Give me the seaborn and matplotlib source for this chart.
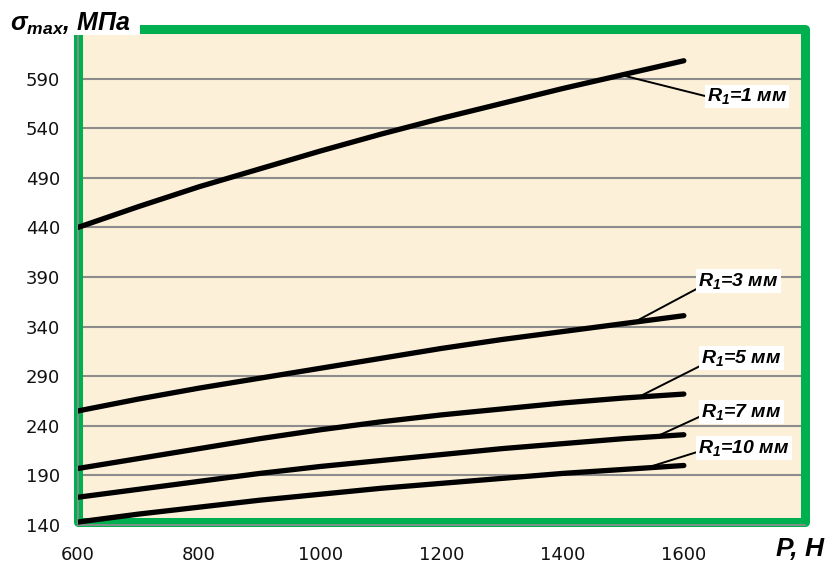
import numpy as np
import pandas as pd
import matplotlib
matplotlib.use("Agg")
import matplotlib.pyplot as plt
import seaborn as sns
from matplotlib.patches import Rectangle

# Load P, N
load_n = [600, 700, 800, 900, 1000, 1100, 1200, 1300, 1400, 1500, 1600]

# Maximum stress, MPa, for each fillet radius R1
stress_r1_1 = [440, 461, 481, 499, 517, 534, 550, 565, 580, 594, 608]
stress_r1_3 = [255, 267, 278, 288, 298, 308, 318, 327, 335, 343, 351]
stress_r1_5 = [197, 207, 217, 227, 236, 244, 251, 257, 263, 268, 272]
stress_r1_7 = [168, 176, 184, 192, 199, 205, 211, 217, 222, 227, 231]
stress_r1_10 = [143, 151, 158, 165, 171, 177, 182, 187, 192, 196, 200]

series_labels = [
    r"$\mathbf{R_1}$=1 мм",
    r"$\mathbf{R_1}$=3 мм",
    r"$\mathbf{R_1}$=5 мм",
    r"$\mathbf{R_1}$=7 мм",
    r"$\mathbf{R_1}$=10 мм",
]
series_values = [stress_r1_1, stress_r1_3, stress_r1_5, stress_r1_7, stress_r1_10]

y_ticks = [140, 190, 240, 290, 340, 390, 440, 490, 540, 590]
x_ticks = [600, 800, 1000, 1200, 1400, 1600, 1800]
x_tick_labels = ["600", "800", "1000", "1200", "1400", "1600", ""]

y_title = r"$\mathbf{σ_{max}}$, МПа"
x_title = "P, H"

# Callout layout: (load where the leader touches the curve, label x, label y, leader end on box)
callouts = [
    (1497, 1638, 572, 0.5),
    (1518, 1624, 386, 0.15),
    (1525, 1629, 308, 0.15),
    (1555, 1629, 254, 0.3),
    (1538, 1624, 218, 0.3),
]

records = []
for name, vals in zip(series_labels, series_values):
    for p, s in zip(load_n, vals):
        records.append({"load": p, "stress": s, "series": name})
df = pd.DataFrame(records)

sns.set_style("white")
plt.rcParams["font.family"] = ["DejaVu Sans"]
plt.rcParams["text.color"] = "black"
plt.rcParams["mathtext.fontset"] = "custom"
plt.rcParams["mathtext.bf"] = "Liberation Sans:italic:bold"
plt.rcParams["mathtext.rm"] = "Liberation Sans:italic:bold"
plt.rcParams["mathtext.it"] = "Liberation Sans:italic:bold"

W, H = 833, 566
fig = plt.figure(figsize=(W / 100, H / 100), dpi=100)
fig.patch.set_facecolor("white")
ax = fig.add_axes([78 / W, 1 - 525 / H, (805 - 78) / W, (525 - 29) / H])
ax.set_facecolor("#FCF0D8")

grid_gray = "#8c8c8c"
green = "#00B050"

for y in y_ticks[1:]:
    ax.axhline(y, color=grid_gray, lw=1.5, zorder=1)

sns.lineplot(data=df, x="load", y="stress", hue="series",
             palette=["black"] * len(series_labels), linewidth=3.8,
             legend=False, sort=False, ax=ax, zorder=3)
for line in ax.lines[len(y_ticks) - 1:]:
    line.set_solid_capstyle("round")

ax.add_patch(Rectangle((0, 0.006), 1, 0.994, transform=ax.transAxes, fill=False,
                       ec=green, lw=6.5, joinstyle="round", clip_on=False, zorder=2))

ax.set_xlim(600, 1800)
ax.set_ylim(140, 640)
ax.set_xticks(x_ticks)
ax.set_xticklabels(x_tick_labels)
ax.set_yticks(y_ticks)
ax.set_xlabel("")
ax.set_ylabel("")
for side in ("top", "right"):
    ax.spines[side].set_visible(False)
for side in ("left", "bottom"):
    ax.spines[side].set_color(grid_gray)
    ax.spines[side].set_linewidth(1.3)
    ax.spines[side].set_zorder(2.6)
ax.tick_params(axis="both", direction="out", length=5, width=1.3,
               color=grid_gray, labelsize=13, labelcolor="#111111")
ax.tick_params(axis="y", pad=8)
ax.tick_params(axis="x", pad=10)

for (p_anchor, tx, ty, rel), name, vals in zip(callouts, series_labels, series_values):
    ax.annotate(name, xy=(p_anchor, np.interp(p_anchor, load_n, vals)),
                xytext=(tx, ty), ha="left", va="center", fontsize=14, color="black",
                fontweight="bold", style="italic", family="Liberation Sans",
                bbox=dict(boxstyle="square,pad=0.1", fc="white", ec="none"),
                arrowprops=dict(arrowstyle="-", color="black", lw=1.4,
                                shrinkA=0, shrinkB=0, relpos=(0, rel)),
                zorder=5, annotation_clip=False)

fig.add_artist(Rectangle((0, 1 - 35 / H), 140 / W, 35 / H, transform=fig.transFigure,
                         fc="white", ec="none", zorder=5))
fig.text(10 / W, 1 - 31 / H, y_title, fontsize=18, fontweight="bold", style="italic",
         color="black", family="Liberation Sans", va="baseline", ha="left", zorder=6)
fig.text(776 / W, 1 - 556 / H, x_title, fontsize=19, fontweight="bold", style="italic",
         color="black", family="Liberation Sans", va="baseline", ha="left", zorder=6)

fig.savefig("out.png", dpi=100)
